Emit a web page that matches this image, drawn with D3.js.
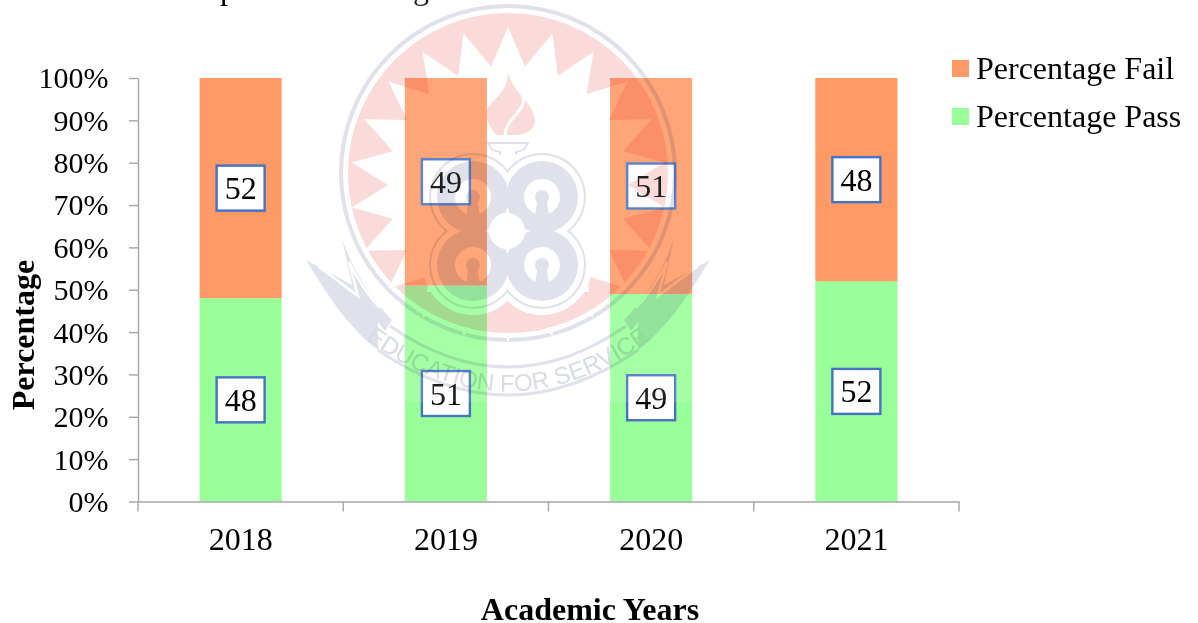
<!DOCTYPE html>
<html>
<head>
<meta charset="utf-8">
<script src="https://cdn.jsdelivr.net/npm/d3@7"></script>
<style>
    html, body { margin: 0; padding: 0; background: #fff; overflow: hidden; }
    svg { display: block; font-family: "Liberation Serif", serif; }
</style>
</head>
<body>
<div id="chart"></div>
<script>
// Chart data
const years = ["2018", "2019", "2020", "2021"];
const percentPass = [48, 51, 49, 52];
const percentFail = [52, 49, 51, 48];
const yTicks = [0, 10, 20, 30, 40, 50, 60, 70, 80, 90, 100];
const seriesNames = ["Percentage Pass", "Percentage Fail"];
const legendOrder = ["Percentage Fail", "Percentage Pass"];

const width = 1198;
const height = 623;
const margin = { top: 78, right: 239, bottom: 121.5, left: 138 };
const colors = { "Percentage Pass": "#99FF99", "Percentage Fail": "#FF9966" };
const axisColor = "#A6A6A6";

const svg = d3.select("#chart")
    .append("svg")
    .attr("width", width)
    .attr("height", height);

const xScale = d3.scaleBand()
    .domain(years)
    .range([margin.left, width - margin.right])
    .paddingInner(0.6)
    .paddingOuter(0.3);

const yScale = d3.scaleLinear()
    .domain([0, 100])
    .range([height - margin.bottom, margin.top]);

// Stack the two series, pass at the bottom
const rows = years.map((y, i) => ({
    year: y,
    "Percentage Pass": percentPass[i],
    "Percentage Fail": percentFail[i]
}));
const stacked = d3.stack().keys(seriesNames)(rows);

const bars = svg.append("g").attr("class", "bars");
bars.selectAll("g")
    .data(stacked)
    .enter()
    .append("g")
    .attr("fill", d => colors[d.key])
    .selectAll("rect")
    .data(d => d)
    .enter()
    .append("rect")
    .attr("x", d => xScale(d.data.year))
    .attr("y", d => yScale(d[1]))
    .attr("width", xScale.bandwidth())
    .attr("height", d => yScale(d[0]) - yScale(d[1]));

// Y axis
const yAxis = d3.axisLeft(yScale)
    .tickValues(yTicks)
    .tickFormat(d => d + "%")
    .tickSize(9)
    .tickSizeOuter(0);

const yG = svg.append("g")
    .attr("class", "y-axis")
    .attr("transform", `translate(${margin.left}, 0)`)
    .call(yAxis);

// X axis, the ticks sit on the category boundaries
const xAxis = d3.axisBottom(xScale).tickSize(0).tickSizeOuter(0);
const xG = svg.append("g")
    .attr("class", "x-axis")
    .attr("transform", `translate(0, ${height - margin.bottom})`)
    .call(xAxis);

xG.selectAll(".boundary")
    .data(d3.range(years.length + 1))
    .enter()
    .append("line")
    .attr("class", "boundary")
    .attr("x1", d => margin.left + d * xScale.step())
    .attr("x2", d => margin.left + d * xScale.step())
    .attr("y1", 0)
    .attr("y2", 10);

svg.selectAll(".domain, .tick line, .boundary")
    .attr("stroke", axisColor)
    .attr("stroke-width", 1.4);

yG.selectAll("text")
    .attr("x", -29.5)
    .attr("dy", "0.33em")
    .attr("fill", "#000")
    .style("font-size", "30px")
    .style("font-family", "Liberation Serif");

xG.selectAll("text")
    .attr("y", 48.5)
    .attr("dy", 0)
    .attr("fill", "#000")
    .style("font-size", "32px")
    .style("font-family", "Liberation Serif");

// Value boxes in the middle of each segment
const labels = svg.append("g").attr("class", "labels");
stacked.forEach(series => {
    series.forEach(d => {
        const cx = xScale(d.data.year) + xScale.bandwidth() / 2;
        const cy = yScale((d[0] + d[1]) / 2);
        labels.append("rect")
            .attr("x", cx - 24)
            .attr("y", cy - 22.5)
            .attr("width", 48)
            .attr("height", 45)
            .attr("fill", "#fff")
            .attr("stroke", "#4472C4")
            .attr("stroke-width", 2.4);
        labels.append("text")
            .attr("x", cx)
            .attr("y", cy + 11)
            .attr("text-anchor", "middle")
            .style("font-size", "32px")
            .text(d[1] - d[0]);
    });
});

// Axis titles
svg.append("text")
    .attr("x", 590)
    .attr("y", 620)
    .attr("text-anchor", "middle")
    .style("font-size", "32px")
    .style("font-weight", "bold")
    .text("Academic Years");

svg.append("text")
    .attr("transform", "translate(34, 335) rotate(-90)")
    .attr("text-anchor", "middle")
    .style("font-size", "32px")
    .style("font-weight", "bold")
    .text("Percentage");

// Legend
const legend = svg.append("g").attr("class", "legend");
legendOrder.forEach((name, i) => {
    const row = legend.append("g").attr("transform", `translate(952, ${60 + i * 48})`);
    row.append("rect")
        .attr("width", 17)
        .attr("height", 17)
        .attr("fill", colors[name]);
    row.append("text")
        .attr("x", 24)
        .attr("y", 19)
        .style("font-size", "32px")
        .text(name);
});

// Bottom of the caption above, cut off by the top edge of the page
svg.append("text").attr("x", 220).attr("y", -1).style("font-size", "32px").text("p");
svg.append("text").attr("x", 413).attr("y", -1).style("font-size", "32px").text("g");

// Watermark crest, laid over the whole chart
function drawWatermark() {
    const pink = "#FBD5D5";
    const slate = "#DCDDE9";
    const cx = 508;
    const mark = svg.append("g")
        .attr("class", "watermark")
        .style("mix-blend-mode", "multiply");

    svg.append("defs").append("clipPath")
        .attr("id", "discClip")
        .append("circle").attr("cx", cx).attr("cy", 173).attr("r", 160);

    mark.append("circle").attr("cx", cx).attr("cy", 173).attr("r", 160).attr("fill", pink);
    mark.append("circle").attr("cx", cx).attr("cy", 173).attr("r", 167)
        .attr("fill", "none").attr("stroke", slate).attr("stroke-width", 4);

    // White sunburst
    const spikes = 22;
    const star = d3.range(spikes * 2).map(i => {
        const a = i * Math.PI / spikes;
        const r = i % 2 === 0 ? 158 : 120;
        return [cx + r * Math.sin(a), 185 - r * Math.cos(a)];
    });
    mark.append("path").attr("d", d3.line()(star) + "Z").attr("fill", "#fff");
    // Pink crescent closes the sunburst at the bottom
    mark.append("rect")
        .attr("x", cx - 160).attr("y", 292)
        .attr("width", 320).attr("height", 45)
        .attr("fill", pink)
        .attr("clip-path", "url(#discClip)");

    // Flame
    mark.append("path")
        .attr("d", "M508,72 C512,92 534,103 535,120 C535,130 526,135 515,135 L497,135 C490,128 484,118 488,108 C494,98 508,92 508,72Z")
        .attr("fill", pink);
    mark.append("path")
        .attr("d", "M522,93 C530,110 505,118 505,135")
        .attr("fill", "none").attr("stroke", "#fff").attr("stroke-width", 3);
    // Torch cup
    mark.append("path")
        .attr("d", "M488,143 L528,143 L524,150 L516,152 L516,165 L500,165 L500,152 L492,150Z")
        .attr("fill", "#fff").attr("stroke", slate).attr("stroke-width", 2);

    // Four lobed emblem
    const lobes = [[473, 197], [542, 197], [473, 265], [542, 265]];
    mark.selectAll(".halo")
        .data(lobes).enter().append("circle")
        .attr("cx", d => d[0]).attr("cy", d => d[1]).attr("r", 50).attr("fill", "#fff");
    mark.selectAll(".edge")
        .data(lobes).enter().append("circle")
        .attr("cx", d => d[0]).attr("cy", d => d[1]).attr("r", 44).attr("fill", slate);
    mark.selectAll(".gap")
        .data(lobes).enter().append("circle")
        .attr("cx", d => d[0]).attr("cy", d => d[1]).attr("r", 42).attr("fill", "#fff");
    mark.selectAll(".lobe")
        .data(lobes).enter().append("circle")
        .attr("cx", d => d[0]).attr("cy", d => d[1]).attr("r", 36).attr("fill", slate);
    mark.selectAll(".hole")
        .data(lobes).enter().append("circle")
        .attr("cx", d => d[0]).attr("cy", d => d[1]).attr("r", 18).attr("fill", "#fff");
    mark.selectAll(".slot")
        .data(lobes).enter().append("path")
        .attr("d", d => `M${d[0] - 4},${d[1]} L${d[0] + 4},${d[1]} L${d[0] + 7},${d[1] + 19} L${d[0] - 7},${d[1] + 19}Z`)
        .attr("fill", slate);
    mark.selectAll(".core")
        .data(lobes).enter().append("circle")
        .attr("cx", d => d[0]).attr("cy", d => d[1]).attr("r", 7).attr("fill", slate);
    mark.append("circle").attr("cx", cx - 1).attr("cy", 231).attr("r", 18).attr("fill", "#fff");

    // Ribbon wings, the right one is the left one mirrored
    const wing = "M306,260 L352,285 L342,238 C352,270 372,300 392,320 L385,331 L378,322 L378,350 C345,325 325,290 306,260Z";
    const wingLine = "M318,266 L358,296 L349,262 C358,280 368,296 380,308";
    [`translate(0, 0)`, `translate(${2 * cx}, 0) scale(-1, 1)`].forEach(t => {
        mark.append("path").attr("d", wing).attr("fill", slate).attr("transform", t);
        mark.append("path").attr("d", wingLine).attr("fill", "none")
            .attr("stroke", "#fff").attr("stroke-width", 2.5).attr("transform", t);
    });

    // Ribbon band with the motto
    mark.append("path")
        .attr("d", "M378,350 Q508,440 638,350")
        .attr("fill", "none").attr("stroke", slate).attr("stroke-width", 3);
    mark.append("path")
        .attr("d", "M390,326 Q508,408 626,326")
        .attr("fill", "none").attr("stroke", slate).attr("stroke-width", 3);
    svg.append("defs").append("path")
        .attr("id", "mottoPath")
        .attr("d", "M360,335 Q508,448 656,335");
    mark.append("text")
        .attr("fill", "#D5D6E4")
        .style("font-family", "Liberation Sans")
        .style("font-size", "24px")
        .append("textPath")
        .attr("href", "#mottoPath")
        .attr("startOffset", "50%")
        .attr("text-anchor", "middle")
        .text("EDUCATION FOR SERVICE");

    // Faint white veil of the image
    svg.append("rect")
        .attr("x", 300).attr("y", 0)
        .attr("width", 410).attr("height", 402)
        .attr("fill", "#fff").attr("opacity", 0.12);
}
drawWatermark();
</script>
</body>
</html>
